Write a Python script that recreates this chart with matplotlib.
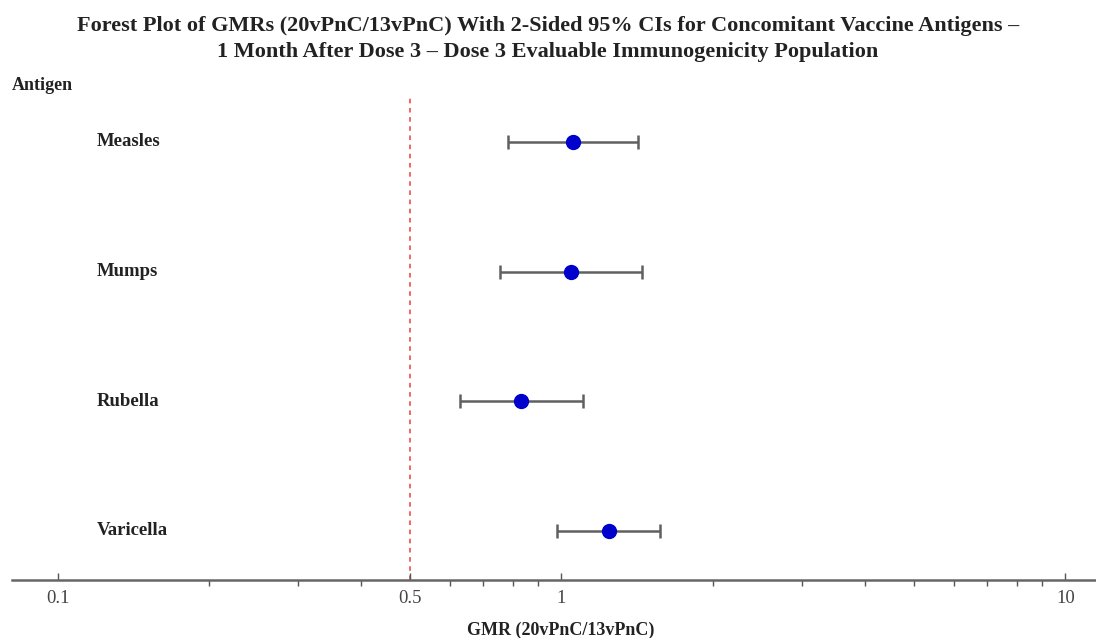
import matplotlib.pyplot as plt
import matplotlib.transforms as mtransforms
from matplotlib.ticker import FixedLocator, NullFormatter

# data
antigens = ['Measles', 'Mumps', 'Rubella', 'Varicella']
gmr = [1.056, 1.045, 0.831, 1.243]
ci_low = [0.784, 0.755, 0.629, 0.981]
ci_high = [1.416, 1.444, 1.101, 1.569]
ref_line = 0.5
tick_vals = [0.1, 0.5, 1, 10]
tick_labels = ['0.1', '0.5', '1', '10']
minor_vals = [0.2, 0.3, 0.4, 0.6, 0.7, 0.8, 0.9, 2, 3, 4, 5, 6, 7, 8, 9]

title_lines = ['Forest Plot of GMRs (20vPnC/13vPnC) With 2-Sided 95% CIs for Concomitant Vaccine Antigens \u2013',
               '1 Month After Dose 3 \u2013 Dose 3 Evaluable Immunogenicity Population']

plt.rcParams['font.family'] = ['Liberation Serif', 'DejaVu Serif']

fig = plt.figure(figsize=(10.96, 6.38), dpi=100)
ax = fig.add_axes([12 / 1096, 58 / 638, 1 - 12 / 1096, (580 - 95) / 638])

ypos = list(range(len(antigens)))
err_lo = [g - l for g, l in zip(gmr, ci_low)]
err_hi = [h - g for g, h in zip(gmr, ci_high)]
ax.errorbar(gmr, ypos, xerr=[err_lo, err_hi], fmt='none', ecolor='#606060',
            elinewidth=1.8, capsize=5, capthick=1.8, zorder=2)
ax.plot(gmr, ypos, 'o', color='#0000cc', markersize=10, zorder=3)

ax.axvline(ref_line, color='#e8433b', linestyle=(0, (3, 3)), linewidth=1.1, zorder=1)

ax.set_xscale('log')
ax.set_xlim(0.0812, 11.5)
ax.set_ylim(3.378, -0.362)

ax.xaxis.set_major_locator(FixedLocator(tick_vals))
ax.set_xticklabels(tick_labels)
ax.xaxis.set_minor_locator(FixedLocator(minor_vals))
ax.xaxis.set_minor_formatter(NullFormatter())
ax.tick_params(axis='x', which='major', direction='in', length=5, width=1,
               color='#555555', labelsize=13.5, labelcolor='#444444', pad=7)
ax.tick_params(axis='x', which='minor', direction='out', length=4, width=1,
               color='#555555')
ax.set_yticks([])
for s in ['top', 'right', 'left']:
    ax.spines[s].set_visible(False)
ax.spines['bottom'].set_color('#666666')
ax.spines['bottom'].set_linewidth(1.8)

# antigen labels
trans = mtransforms.blended_transform_factory(fig.transFigure, ax.transData)
for y, name in zip(ypos, antigens):
    ax.text(97 / 1096, y, name, transform=trans, ha='left', va='center',
            fontsize=13.5, fontweight='bold', color='#222222')

fig.text(12 / 1096, 1 - 85 / 638, 'Antigen', ha='left', va='center',
         fontsize=13, fontweight='bold', color='#222222')
fig.text(0.5, 1 - 31 / 638, title_lines[0], ha='center', va='baseline',
         fontsize=16, fontweight='bold', color='#222222')
fig.text(0.5, 1 - 57 / 638, title_lines[1], ha='center', va='baseline',
         fontsize=16, fontweight='bold', color='#222222')
fig.text(561 / 1096, 1 - 630 / 638, 'GMR (20vPnC/13vPnC)', ha='center', va='center',
         fontsize=13, fontweight='bold', color='#222222')

fig.savefig('out.png', dpi=100)
